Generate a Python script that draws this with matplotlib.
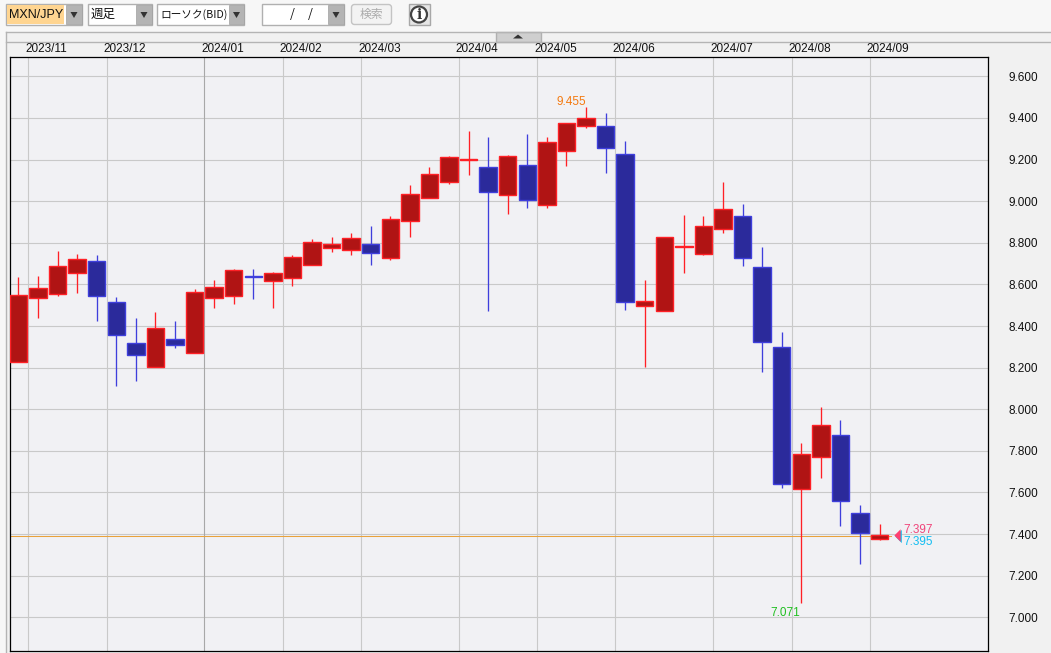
import matplotlib
matplotlib.use("Agg")
import matplotlib.pyplot as plt
from matplotlib.patches import Rectangle, FancyBboxPatch, Circle, Polygon
from matplotlib.transforms import ScaledTranslation

plt.rcParams['font.family'] = ['Liberation Sans', 'Noto Sans CJK JP', 'DejaVu Sans']

opens = [8.226, 8.534, 8.553, 8.654, 8.711, 8.514, 8.317, 8.202, 8.337, 8.269, 8.534, 8.546, 8.640, 8.615, 8.630,
         8.692, 8.774, 8.764, 8.793, 8.726, 8.904, 9.014, 9.091, 9.198, 9.163, 9.029, 9.173, 8.981, 9.240, 9.361,
         9.361, 9.226, 8.495, 8.471, 8.780, 8.745, 8.865, 8.928, 8.683, 8.298, 7.615, 7.769, 7.875, 7.500, 7.378]
highs = [8.636, 8.641, 8.761, 8.747, 8.742, 8.538, 8.439, 8.468, 8.424, 8.578, 8.622, 8.675, 8.675, 8.660, 8.742,
         8.819, 8.828, 8.848, 8.881, 8.929, 9.078, 9.165, 9.218, 9.338, 9.309, 9.222, 9.323, 9.309, 9.375, 9.455,
         9.424, 9.290, 8.622, 8.827, 8.934, 8.929, 9.093, 8.987, 8.780, 8.372, 7.838, 8.011, 7.949, 7.540, 7.449]
lows = [8.226, 8.440, 8.546, 8.561, 8.426, 8.113, 8.138, 8.202, 8.295, 8.269, 8.487, 8.506, 8.530, 8.487, 8.594,
        8.692, 8.758, 8.739, 8.695, 8.718, 8.830, 9.014, 9.083, 9.128, 8.474, 8.936, 8.969, 8.969, 9.170, 9.353,
        9.137, 8.479, 8.202, 8.471, 8.657, 8.739, 8.849, 8.690, 8.179, 7.623, 7.071, 7.671, 7.440, 7.258, 7.372]
closes = [8.548, 8.582, 8.687, 8.721, 8.543, 8.356, 8.260, 8.389, 8.308, 8.562, 8.587, 8.668, 8.636, 8.654, 8.731,
          8.803, 8.793, 8.822, 8.750, 8.913, 9.034, 9.130, 9.212, 9.202, 9.043, 9.216, 9.005, 9.284, 9.375, 9.399,
          9.255, 8.514, 8.519, 8.827, 8.784, 8.880, 8.962, 8.726, 8.322, 7.639, 7.784, 7.923, 7.558, 7.407, 7.394]

month_pos = [0.5, 4.5, 9.5, 13.5, 17.5, 22.5, 26.5, 30.5, 35.5, 39.5, 43.5]
month_labels = ['2023/11', '2023/12', '2024/01', '2024/02', '2024/03', '2024/04',
                '2024/05', '2024/06', '2024/07', '2024/08', '2024/09']
major_month = '2024/01'
price_ticks = [7.0, 7.2, 7.4, 7.6, 7.8, 8.0, 8.2, 8.4, 8.6, 8.8, 9.0, 9.2, 9.4, 9.6]
high_mark = 9.455
low_mark = 7.071
ask_price = 7.397
bid_price = 7.395
last_index = len(closes) - 1
LABEL = 8.5
CJK = ['Noto Sans CJK JP', 'DejaVu Sans']

W, H = 1051, 653
fig = plt.figure(figsize=(W / 100, H / 100), dpi=100, facecolor='#f7f7f7')

# chrome layer in pixel coordinates
ui = fig.add_axes([0, 0, 1, 1], zorder=0)
ui.set_xlim(0, W); ui.set_ylim(H, 0); ui.axis('off')
ui.add_patch(Rectangle((6, 32), W - 6, H - 32, fc='#f1f1f1', ec='none'))
ui.plot([6, W], [32, 32], color='#b4b4b4', lw=1)
ui.plot([6, W], [42, 42], color='#b4b4b4', lw=1)
ui.plot([6, 6], [32, H], color='#b4b4b4', lw=1)
ui.add_patch(Rectangle((496, 32), 45, 9.5, fc='#cfcfcf', ec='#b0b0b0', lw=1))
ui.add_patch(Polygon([[513, 38.5], [523, 38.5], [518, 34.5]], fc='#333333', ec='none'))


def combo(x0, x1, btn_w, text, fill='white', fill_to=None, size=9, family=None):
    ui.add_patch(Rectangle((x0, 4), x1 - x0, 20.5, fc='white', ec='#b0b0b0', lw=1))
    if fill_to:
        ui.add_patch(Rectangle((x0 + 1, 5), fill_to - x0 - 1, 18.5, fc=fill, ec='none'))
    ui.add_patch(Rectangle((x1 - btn_w, 5), btn_w, 19, fc='#b4b4b4', ec='#a0a0a0', lw=0.5))
    ui.add_patch(Polygon([[x1 - btn_w / 2 - 3.5, 12], [x1 - btn_w / 2 + 3.5, 12], [x1 - btn_w / 2, 18]],
                         fc='#333333', ec='none'))
    if text:
        ui.text(x0 + 3, 14.5, text, fontsize=size, va='center', ha='left', color='#111111', family=family)


combo(6, 82, 16, 'MXN/JPY', fill='#ffd591', fill_to=64, size=9)
combo(88, 152, 16, '週足', family=CJK)
combo(157, 244, 15, 'ローソク(BID)', size=7.7, family=CJK)
combo(262, 344, 16, '')
ui.text(292, 14.5, '/', fontsize=9, ha='center', va='center', color='#111111', family=CJK)
ui.text(310, 14.5, '/', fontsize=9, ha='center', va='center', color='#111111', family=CJK)
ui.add_patch(FancyBboxPatch((353, 6), 37, 17, boxstyle='round,pad=1.5,rounding_size=3',
                            fc='#f3f3f3', ec='#c4c4c4', lw=1))
ui.text(371, 14.5, '検索', fontsize=8.5, ha='center', va='center', color='#ababab', family=CJK)
ui.add_patch(Rectangle((409, 4), 20.5, 21, fc='#e6e6e6', ec='#a8a8a8', lw=1))
ui.add_patch(Circle((419, 14.5), 8, fc='white', ec='#444444', lw=1.6))
ui.text(419, 14.8, 'i', fontsize=10, ha='center', va='center', color='#333333',
        family='DejaVu Serif', weight='bold')

# chart
left, right, top, bottom = 10.0, 988.0, 57.0, 651.0
ax = fig.add_axes([left / W, 1 - bottom / H, (right - left) / W, (bottom - top) / H], zorder=1)
ax.set_facecolor('#f1f1f4')
ax.set_xlim(-0.434, 49.54)
ax.set_ylim(6.838, 9.693)
for s in ax.spines.values():
    s.set_linewidth(0.9); s.set_color('black')

ax.set_yticks(price_ticks, [f'{v:.3f}' for v in price_ticks])
ax.yaxis.tick_right()
ax.tick_params(axis='y', length=0, pad=14.5, labelsize=LABEL, labelcolor='#111111')
ax.set_xticks(month_pos, month_labels)
ax.xaxis.tick_top()
ax.tick_params(axis='x', length=0, pad=1.6, labelsize=LABEL, labelcolor='#111111')
shift = ScaledTranslation(-3 / 100, 0, fig.dpi_scale_trans)
for lab in ax.get_xticklabels():
    lab.set_ha('left')
    lab.set_transform(lab.get_transform() + shift)

ax.set_axisbelow(True)
ax.grid(axis='y', color='#c9c9c9', lw=0.8)
for p, lab in zip(month_pos, month_labels):
    ax.axvline(p, color='#a8a8a8' if lab == major_month else '#c9c9c9', lw=0.8, zorder=0.8)

ax.plot([-1, last_index + 0.57], [bid_price - 0.002, bid_price - 0.002], color='#e9a23b', lw=0.75, zorder=1.5)

for i, (o, h, l, c) in enumerate(zip(opens, highs, lows, closes)):
    up = c >= o
    edge = '#ff2026' if up else '#3f3fdc'
    face = '#b01414' if up else '#2b2a9b'
    ax.plot([i, i], [l, h], color=edge, lw=0.95, zorder=2, solid_capstyle='butt')
    ax.bar(i, abs(c - o), bottom=min(o, c), width=0.89, color=face, edgecolor=edge, linewidth=1.0, zorder=3)

ax.annotate(f'{high_mark:.3f}', (highs.index(high_mark), high_mark), xytext=(-15, 5),
            textcoords='offset pixels', ha='center', va='center', fontsize=LABEL, color='#f47a10')
ax.annotate(f'{low_mark:.3f}', (lows.index(low_mark), low_mark), xytext=(-16, -10),
            textcoords='offset pixels', ha='center', va='center', fontsize=LABEL, color='#1fbf1f')

mx = last_index + 0.9
tri = [(-0.5, 0), (0.5, 1), (0.5, -1)]
ax.plot([mx], [bid_price], marker=tri, ms=9.5, color='#19b8e8', mew=0, zorder=4,
        transform=ax.transData + ScaledTranslation(0.5 / 100, -1 / 100, fig.dpi_scale_trans))
ax.plot([mx], [ask_price], marker=tri, ms=9, color='#ff3f70', mew=0, zorder=5)
ax.annotate(f'{ask_price:.3f}', (mx, ask_price), xytext=(6, 4.5), textcoords='offset pixels',
            ha='left', va='center', fontsize=LABEL, color='#f0457a')
ax.annotate(f'{bid_price:.3f}', (mx, bid_price), xytext=(6, -6.5), textcoords='offset pixels',
            ha='left', va='center', fontsize=LABEL, color='#12bdf2')

fig.savefig('out.png', dpi=100, facecolor=fig.get_facecolor())
